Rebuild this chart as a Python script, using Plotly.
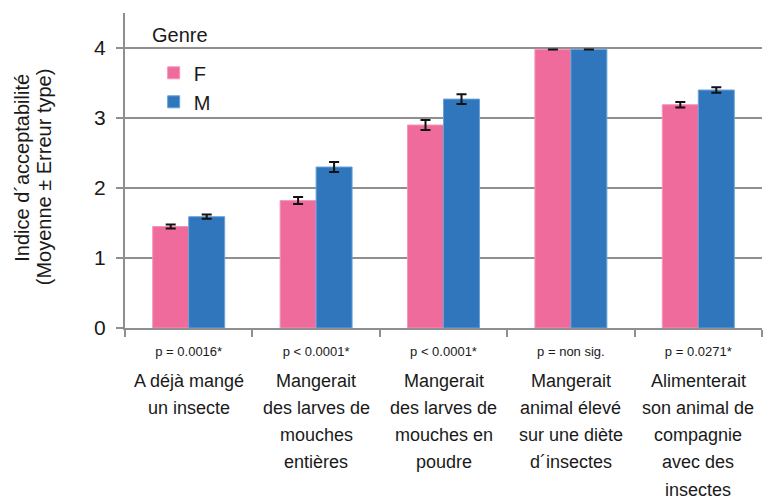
import plotly.graph_objects as go

# Survey items, p-values and mean acceptability index by gender
categories = [
    "A déjà mangé un insecte",
    "Mangerait des larves de mouches entières",
    "Mangerait des larves de mouches en poudre",
    "Mangerait animal élevé sur une diète d´insectes",
    "Alimenterait son animal de compagnie avec des insectes",
]
category_lines = [
    ["A déjà mangé", "un insecte"],
    ["Mangerait", "des larves de", "mouches", "entières"],
    ["Mangerait", "des larves de", "mouches en", "poudre"],
    ["Mangerait", "animal élevé", "sur une diète", "d´insectes"],
    ["Alimenterait", "son animal de", "compagnie", "avec des", "insectes"],
]
p_values = ["p = 0.0016*", "p < 0.0001*", "p < 0.0001*", "p = non sig.", "p = 0.0271*"]

mean_f = [1.45, 1.82, 2.90, 3.98, 3.19]
err_f = [0.03, 0.05, 0.07, 0.0, 0.04]
mean_m = [1.59, 2.30, 3.27, 3.98, 3.40]
err_m = [0.03, 0.07, 0.07, 0.0, 0.04]

FONT = "Liberation Sans, Arial, sans-serif"
TEXT = "#1a1a1a"
GRID = "#8f8f8f"

fig = go.Figure()
fig.add_trace(go.Bar(
    name="F", x=categories, y=mean_f,
    marker=dict(color="#ef6b9c", line=dict(color="#f495ba", width=1)),
    error_y=dict(type="data", array=err_f, color="#111111", thickness=2, width=5),
))
fig.add_trace(go.Bar(
    name="M", x=categories, y=mean_m,
    marker=dict(color="#2f76bc", line=dict(color="#6aa2d8", width=1)),
    error_y=dict(type="data", array=err_m, color="#111111", thickness=2, width=5),
))

annotations = []
# Multi-line category names under the p-value row
for cat, lines in zip(categories, category_lines):
    for i, line in enumerate(lines):
        annotations.append(dict(
            x=cat, xref="x", y=0, yref="paper",
            text=line, showarrow=False,
            xanchor="center", yanchor="middle",
            yshift=-(52.5 + i * 27.3),
            font=dict(family=FONT, size=18, color=TEXT),
        ))

# Two-line y-axis title
annotations.append(dict(
    x=-0.161, xref="paper", y=0.51, yref="paper",
    text="Indice d´acceptabilité", textangle=-90, showarrow=False,
    xanchor="center", yanchor="middle",
    font=dict(family=FONT, size=20, color=TEXT),
))
annotations.append(dict(
    x=-0.128, xref="paper", y=0.48, yref="paper",
    text="(Moyenne ± Erreur type)", textangle=-90, showarrow=False,
    xanchor="center", yanchor="middle",
    font=dict(family=FONT, size=20, color=TEXT),
))

# Legend heading
annotations.append(dict(
    x=0.04, xref="paper", y=0.929, yref="paper",
    text="Genre", showarrow=False,
    xanchor="left", yanchor="middle",
    font=dict(family=FONT, size=20, color=TEXT),
))

fig.update_layout(
    width=774, height=502,
    margin=dict(l=125, r=12, t=13, b=174),
    paper_bgcolor="white", plot_bgcolor="white",
    barmode="group", bargap=0.435, bargroupgap=0,
    font=dict(family=FONT, color=TEXT),
    legend=dict(
        x=0.045, y=0.872, xanchor="left", yanchor="top",
        bgcolor="rgba(0,0,0,0)", font=dict(family=FONT, size=20, color=TEXT),
        tracegroupgap=0, itemwidth=30,
    ),
    annotations=annotations,
    xaxis=dict(
        tickmode="array", tickvals=categories, ticktext=p_values,
        tickson="boundaries", ticks="outside", ticklen=7, tickwidth=2, tickcolor=GRID,
        ticklabelstandoff=10,
        showline=True, linecolor=GRID, linewidth=2,
        tickfont=dict(family=FONT, size=13, color=TEXT),
        showgrid=False,
    ),
    yaxis=dict(
        range=[0, 4.5], tickvals=[0, 1, 2, 3, 4],
        showgrid=True, gridcolor=GRID, gridwidth=2,
        showline=True, linecolor=GRID, linewidth=2,
        ticks="outside", ticklen=7, tickwidth=2, tickcolor=GRID,
        ticklabelstandoff=6,
        tickfont=dict(family=FONT, size=21, color=TEXT),
        zeroline=False,
    ),
)

fig.write_html("out.html")
